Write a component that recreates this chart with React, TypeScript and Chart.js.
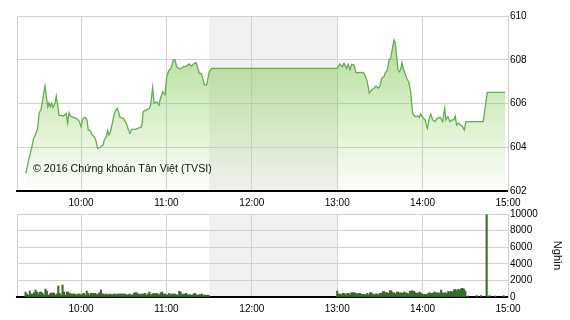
import React, { useEffect, useRef } from "react";
import { Chart, registerables } from "chart.js";

Chart.register(...registerables);

const FONT = '"Liberation Sans", Arial, sans-serif';

// Trading session, minutes since midnight
const sessionOpen = 555; // 9:15
const sessionClose = 900; // 15:00
const lunchStart = 690; // 11:30
const lunchEnd = 780; // 13:00
const hourTicks = [555, 600, 660, 720, 780, 840, 900];

const priceTicks = [602, 604, 606, 608, 610];
const volumeTicks = [0, 2000, 4000, 6000, 8000, 10000];

// Index points, morning session (minutes since midnight / index value)
const morningTimes = [
  561.3, 563.2, 565.5, 566.7, 567.9, 569.5, 570.5, 571.9, 572.8, 573.8,
  574.7, 575.6, 576.6, 577.5, 578.4, 579.4, 580.3, 581.7, 582.6, 583.6,
  584.5, 587.8, 589.6, 590.6, 591.5, 592.9, 594.8, 596.7, 598.6, 600.0,
  601.4, 602.8, 604.2, 605.1, 606.5, 607.9, 609.3, 610.3, 611.7, 613.5,
  615.4, 616.3, 617.7, 618.7, 619.6, 620.6, 622.0, 623.4, 624.8, 625.5,
  627.4, 629.7, 631.6, 633.2, 634.4, 635.6, 637.9, 640.2, 642.6, 643.7,
  645.6, 648.0, 648.9, 650.3, 651.3, 653.2, 654.8, 655.5, 657.4, 659.0,
  660.2, 661.6, 663.2, 664.8, 666.0, 667.2, 669.5, 671.8, 674.2, 676.1,
  677.7, 678.9, 680.8, 681.7, 683.1, 684.5, 685.5, 686.6, 688.3, 690.1,
  691.8,
];
const morningPrices = [
  602.81, 603.42, 604.03, 604.41, 604.56, 604.87, 605.55, 605.74, 606.08, 606.47,
  606.8, 606.31, 605.85, 606.04, 605.85, 606.01, 605.81, 606.01, 606.34, 605.93,
  605.47, 605.43, 605.55, 605.1, 605.58, 605.4, 605.37, 605.32, 605.21, 604.94,
  605.32, 605.37, 605.25, 604.79, 604.76, 604.56, 604.48, 604.33, 603.95, 604.0,
  604.1, 604.33, 604.48, 604.76, 604.56, 604.71, 605.1, 605.55, 605.74, 605.78,
  605.37, 605.32, 605.12, 604.82, 604.64, 604.82, 604.82, 604.87, 604.94, 605.63,
  605.7, 605.78, 605.93, 606.73, 606.01, 606.08, 605.93, 606.16, 606.54, 606.39,
  607.23, 607.5, 607.61, 607.99, 607.99, 607.68, 607.58, 607.68, 607.71, 607.81,
  607.71, 607.81, 607.87, 607.71, 607.38, 607.38, 607.15, 606.85, 606.85, 607.45,
  607.61,
];

// Index points, afternoon session
const afternoonTimes = [
  780.0, 781.9, 783.6, 784.7, 786.6, 787.8, 789.0, 790.2, 791.8, 793.2,
  798.3, 799.5, 801.1, 802.5, 804.2, 805.8, 807.2, 808.8, 810.0, 811.2,
  812.9, 813.6, 815.2, 816.4, 817.6, 819.0, 819.9, 820.8, 821.8, 822.7,
  823.6, 824.6, 825.5, 826.4, 827.6, 828.8, 830.2, 831.6, 833.0, 834.6,
  836.3, 837.7, 838.6, 840.0, 841.7, 843.3, 844.7, 845.7, 847.1, 848.7,
  850.3, 852.2, 854.1, 855.5, 856.4, 857.8, 859.2, 860.6, 862.0, 862.9,
  863.9, 865.3, 866.7, 868.1, 869.3, 870.5, 882.6, 885.4, 897.9,
];
const afternoonPrices = [
  607.61, 607.81, 607.68, 607.84, 607.61, 607.79, 607.56, 607.79, 607.76, 607.41,
  607.42, 607.3, 607.0, 606.47, 606.62, 606.7, 606.8, 606.7, 606.78, 607.15,
  607.23, 607.38, 607.53, 607.99, 608.07, 608.6, 608.9, 608.78, 608.14, 607.53,
  607.45, 607.56, 607.87, 607.61, 607.38, 607.15, 607.0, 606.54, 605.55, 605.4,
  605.43, 605.37, 605.52, 605.38, 605.25, 604.87, 605.32, 605.52, 605.25, 605.17,
  605.32, 605.37, 605.17, 605.78, 605.25, 605.4, 605.17, 605.25, 605.25, 605.43,
  605.02, 605.1, 605.02, 604.94, 604.79, 605.17, 605.17, 606.51, 606.51,
];

// Volume (thousand shares), one bar per minute
const morningVolumeStart = 561;
const morningVolume = [
  600, 360, 200, 720, 360, 360, 520, 840, 600, 360,
  600, 600, 440, 200, 960, 720, 200, 360, 480, 480,
  480, 240, 360, 1330, 440, 200, 1450, 600, 240, 600,
  600, 440, 360, 360, 360, 360, 240, 360, 360, 240,
  360, 440, 240, 720, 440, 240, 440, 440, 440, 440,
  280, 360, 520, 840, 360, 360, 280, 360, 240, 360,
  300, 280, 360, 360, 280, 360, 360, 360, 360, 360,
  360, 240, 280, 360, 280, 200, 440, 520, 520, 360,
  360, 280, 360, 360, 440, 240, 360, 600, 280, 360,
  440, 360, 440, 360, 280, 520, 600, 360, 360, 240,
  280, 440, 280, 360, 360, 360, 280, 240, 680, 600,
  280, 360, 360, 440, 240, 280, 280, 200, 360, 440,
  280, 200, 280, 280, 360, 200, 240, 200, 240, 160,
];
const afternoonVolumeStart = 780;
const afternoonVolume = [
  720,
  360, 360, 280, 440, 440, 240, 440, 440, 280, 520,
  520, 520, 440, 360, 440, 440, 320, 320, 320, 240,
  440, 280, 520, 520, 360, 280, 360, 360, 280, 440,
  440, 640, 640, 520, 520, 440, 760, 760, 520, 520,
  360, 600, 600, 440, 520, 440, 600, 520, 440, 360,
  680, 720, 760, 680, 520, 440, 520, 600, 440, 320,
  320, 320, 280, 440, 520, 440, 440, 520, 600, 440,
  520, 440, 840, 520, 440, 520, 440, 680, 600, 680,
  600, 840, 920, 760, 920, 840, 1000, 1050, 960, 720,
];
const lateVolumeTimes = [872, 878, 881, 885, 887, 891, 897];
const lateVolume = [120, 160, 160, 9900, 160, 120, 160];

const GRID = "#d2d2d2";
const LINE = "#62ae50";
const BAR = "#386a2c";

const formatTime = (v: number) =>
  v === sessionOpen ? "" : `${Math.floor(v / 60)}:${String(v % 60).padStart(2, "0")}`;

// Grey band behind the lunch break
const lunchBand = {
  id: "lunchBand",
  beforeDraw(chart: any) {
    const { ctx, chartArea, scales } = chart;
    const x0 = scales.x.getPixelForValue(lunchStart);
    const x1 = scales.x.getPixelForValue(lunchEnd);
    ctx.save();
    ctx.fillStyle = "#f1f1f1";
    ctx.fillRect(x0, chartArea.top, x1 - x0, chartArea.bottom - chartArea.top);
    ctx.restore();
  },
};

const copyright = {
  id: "copyright",
  afterDatasetsDraw(chart: any) {
    const { ctx } = chart;
    ctx.save();
    ctx.font = `10.7px ${FONT}`;
    ctx.fillStyle = "#111";
    ctx.textBaseline = "middle";
    ctx.textAlign = "left";
    ctx.fillText("© 2016 Chứng khoán Tân Việt (TVSI)", 33, 169);
    ctx.restore();
  },
};

const timeAxis = (height: number) => ({
  type: "linear" as const,
  min: sessionOpen,
  max: sessionClose,
  offset: false,
  afterBuildTicks: (axis: any) => {
    axis.ticks = hourTicks.map((value) => ({ value }));
  },
  afterFit: (axis: any) => {
    axis.height = height;
  },
  grid: { color: GRID, lineWidth: 1, drawTicks: false, offset: false },
  border: { display: true, color: "#000", width: 2 },
  ticks: {
    color: "#000",
    font: { family: FONT, size: 10 },
    padding: 6,
    maxRotation: 0,
    autoSkip: false,
    callback: (v: any) => formatTime(Number(v)),
  },
});

export default function App() {
  const priceRef = useRef<HTMLCanvasElement>(null);
  const volRef = useRef<HTMLCanvasElement>(null);

  useEffect(() => {
    const pricePoints = [
      ...morningTimes.map((x, i) => ({ x, y: morningPrices[i] })),
      ...afternoonTimes.map((x, i) => ({ x, y: afternoonPrices[i] })),
    ];
    const volumePoints = [
      ...morningVolume.map((y, i) => ({ x: morningVolumeStart + i, y })),
      ...afternoonVolume.map((y, i) => ({ x: afternoonVolumeStart + i, y })),
      ...lateVolume.map((y, i) => ({ x: lateVolumeTimes[i], y })),
    ];

    const priceChart = new Chart(priceRef.current!, {
      type: "line",
      data: {
        datasets: [
          {
            data: pricePoints,
            borderColor: LINE,
            borderWidth: 1.3,
            pointRadius: 0,
            tension: 0,
            fill: "start",
            backgroundColor: (ctx: any) => {
              const area = ctx.chart.chartArea;
              if (!area) return "rgba(140,205,95,0.3)";
              const g = ctx.chart.ctx.createLinearGradient(0, area.top + 40, 0, area.bottom);
              g.addColorStop(0, "rgba(140,205,95,0.58)");
              g.addColorStop(1, "rgba(140,205,95,0.02)");
              return g;
            },
          },
        ],
      },
      options: {
        animation: false,
        responsive: false,
        events: [],
        layout: { padding: { top: 16, left: 17, right: 0, bottom: 0 } },
        plugins: { legend: { display: false }, tooltip: { enabled: false } },
        scales: {
          x: timeAxis(19),
          y: {
            position: "right",
            min: 602,
            max: 610,
            afterBuildTicks: (axis: any) => {
              axis.ticks = priceTicks.map((value) => ({ value }));
            },
            afterFit: (axis: any) => {
              axis.width = 62;
            },
            grid: { color: GRID, drawTicks: false },
            border: { display: true, color: GRID },
            ticks: {
              color: "#000",
              font: { family: FONT, size: 10 },
              padding: 2,
              callback: (v: any) => String(v),
            },
          },
        },
      },
      plugins: [lunchBand, copyright],
    });

    const volChart = new Chart(volRef.current!, {
      type: "bar",
      data: {
        datasets: [
          {
            data: volumePoints,
            backgroundColor: BAR,
            borderWidth: 0,
            barPercentage: 1,
            categoryPercentage: 1,
          },
        ],
      },
      options: {
        animation: false,
        responsive: false,
        events: [],
        layout: { padding: { top: 14, left: 17, right: 0, bottom: 0 } },
        plugins: { legend: { display: false }, tooltip: { enabled: false } },
        scales: {
          x: timeAxis(23),
          y: {
            position: "right",
            min: 0,
            max: 10000,
            afterBuildTicks: (axis: any) => {
              axis.ticks = volumeTicks.map((value) => ({ value }));
            },
            afterFit: (axis: any) => {
              axis.width = 62;
            },
            grid: { color: GRID, drawTicks: false },
            border: { display: true, color: GRID },
            ticks: {
              color: "#000",
              font: { family: FONT, size: 10 },
              padding: 2,
              callback: (v: any) => String(v),
            },
            title: {
              display: true,
              text: "Nghìn",
              color: "#000",
              font: { family: FONT, size: 11 },
              padding: { top: 6, bottom: 0 },
            },
          },
        },
      },
      plugins: [lunchBand],
    });

    return () => {
      priceChart.destroy();
      volChart.destroy();
    };
  }, []);

  return (
    <div
      style={{
        position: "absolute",
        left: 0,
        top: 0,
        width: 570,
        height: 320,
        background: "#fff",
        overflow: "hidden",
      }}
    >
      <canvas
        ref={priceRef}
        width={570}
        height={210}
        style={{ position: "absolute", left: 0, top: 0 }}
      />
      <canvas
        ref={volRef}
        width={570}
        height={120}
        style={{ position: "absolute", left: 0, top: 200 }}
      />
    </div>
  );
}
